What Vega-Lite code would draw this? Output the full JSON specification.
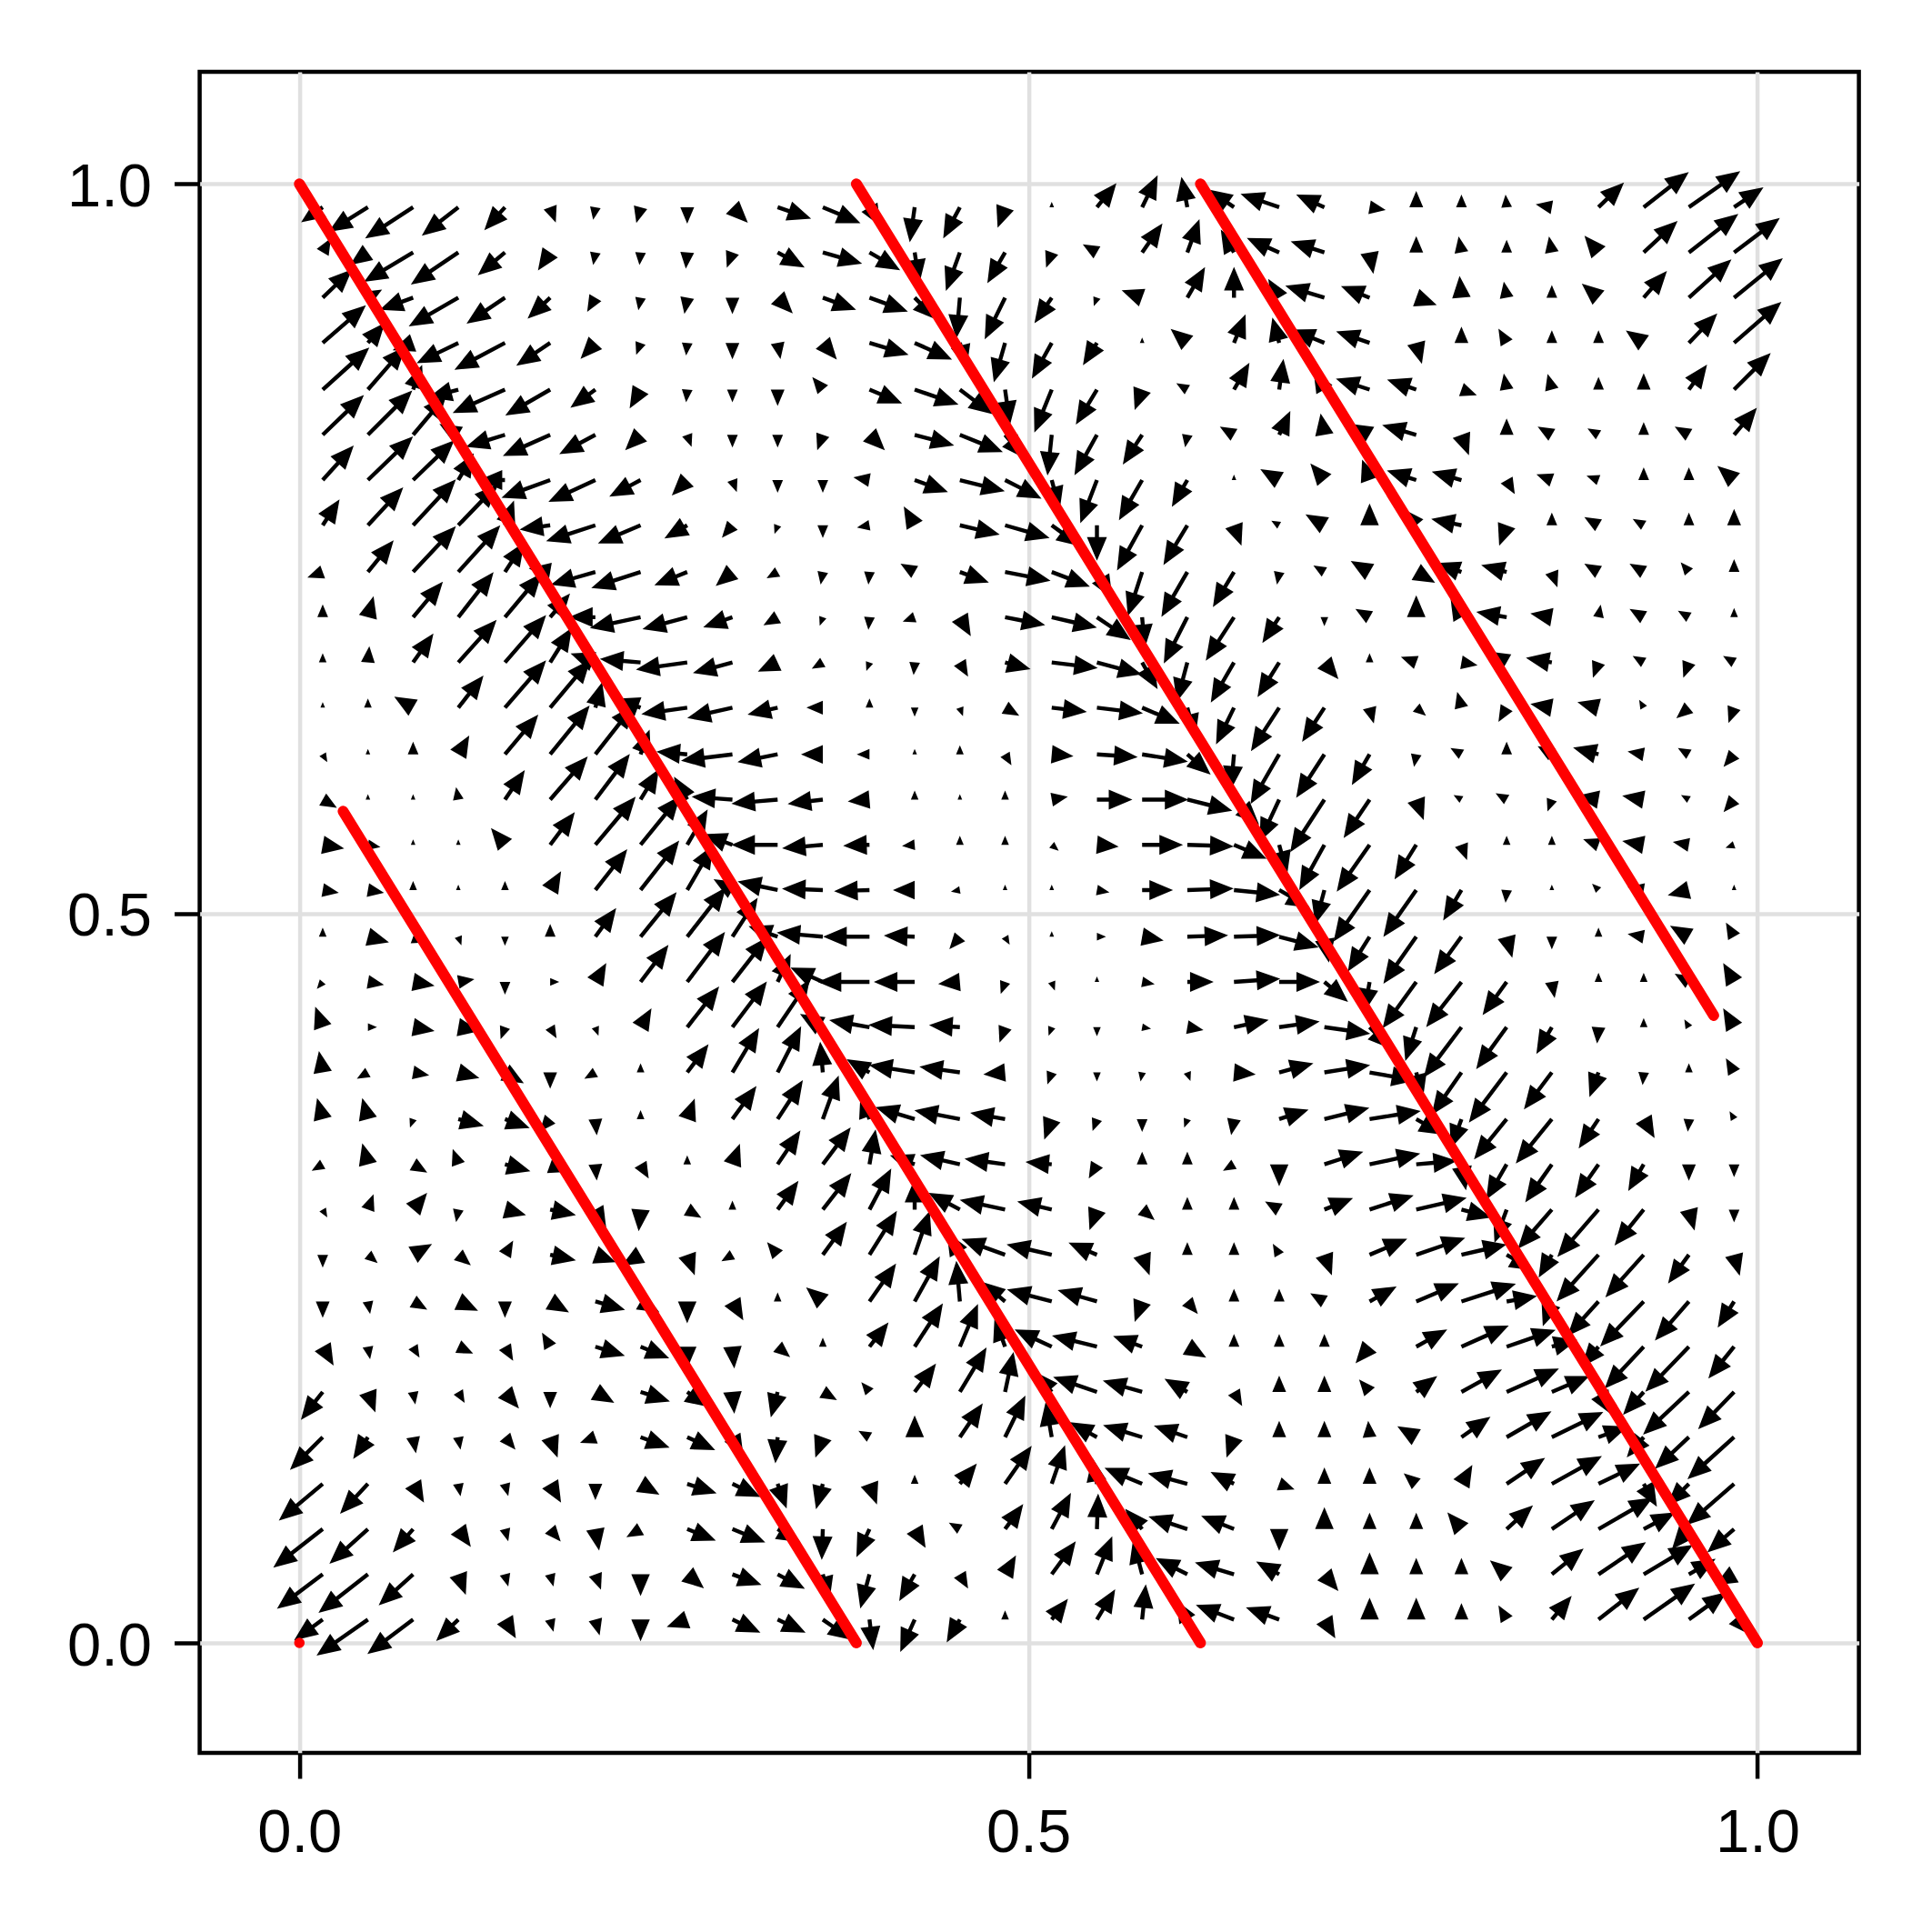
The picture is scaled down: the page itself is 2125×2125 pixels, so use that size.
{
"$schema": "https://vega.github.io/schema/vega-lite/v6.json",
"width": 1825, "height": 1849,
"autosize": {"type": "none"},
"padding": {"left": 219.6, "top": 79, "right": 80.4, "bottom": 197},
"background": "white",
"config": {
 "view": {"stroke": "black", "strokeWidth": 4.5},
 "axis": {"grid": true, "gridColor": "#e0e0e0", "gridWidth": 4.5, "domain": false, "tickColor": "black", "tickWidth": 4.5, "tickSize": 28, "labelFont": "Liberation Sans", "labelFontSize": 67, "labelColor": "black", "title": null, "labelFlush": false, "labelOverlap": false}
},
"datasets": {
"lines": [
{"x":0,"y":1,"s":"a"},{"x":0.618,"y":0,"s":"a"},
{"x":0.382,"y":1,"s":"b"},{"x":1,"y":0,"s":"b"},
{"x":0.618,"y":1,"s":"c"},{"x":0.970,"y":0.430,"s":"c"},
{"x":0.030,"y":0.570,"s":"d"},{"x":0.382,"y":0,"s":"d"}
],
"dot": [{"x":0,"y":0}],
"arrows": [
{"x":0.016,"y":0.984,"a":235,"m":5},{"x":0.047,"y":0.984,"a":238,"m":9},{"x":0.078,"y":0.984,"a":237,"m":11},{"x":0.109,"y":0.984,"a":232,"m":9},{"x":0.141,"y":0.984,"a":222,"m":6},{"x":0.172,"y":0.984,"a":160,"m":3},{"x":0.203,"y":0.984,"a":190,"m":2},{"x":0.234,"y":0.984,"a":195,"m":3},{"x":0.266,"y":0.984,"a":180,"m":3},{"x":0.297,"y":0.984,"a":135,"m":4},{"x":0.328,"y":0.984,"a":109,"m":7},{"x":0.359,"y":0.984,"a":113,"m":8},{"x":0.391,"y":0.984,"a":150,"m":4},{"x":0.422,"y":0.984,"a":188,"m":7},{"x":0.453,"y":0.984,"a":208,"m":7},{"x":0.484,"y":0.984,"a":200,"m":4},{"x":0.516,"y":0.984,"a":0,"m":0},{"x":0.547,"y":0.984,"a":39,"m":6},{"x":0.578,"y":0.984,"a":26,"m":7},{"x":0.609,"y":0.984,"a":349,"m":6},{"x":0.641,"y":0.984,"a":305,"m":6},{"x":0.672,"y":0.984,"a":289,"m":8},{"x":0.703,"y":0.984,"a":294,"m":6},{"x":0.734,"y":0.984,"a":100,"m":3},{"x":0.766,"y":0.984,"a":0,"m":3},{"x":0.797,"y":0.984,"a":0,"m":2},{"x":0.828,"y":0.984,"a":355,"m":2},{"x":0.859,"y":0.984,"a":280,"m":3},{"x":0.891,"y":0.984,"a":46,"m":7},{"x":0.922,"y":0.984,"a":52,"m":11},{"x":0.953,"y":0.984,"a":55,"m":12},{"x":0.984,"y":0.984,"a":56,"m":7},
{"x":0.016,"y":0.953,"a":30,"m":3},{"x":0.047,"y":0.953,"a":235,"m":4},{"x":0.078,"y":0.953,"a":239,"m":11},{"x":0.109,"y":0.953,"a":236,"m":11},{"x":0.141,"y":0.953,"a":230,"m":7},{"x":0.172,"y":0.953,"a":214,"m":4},{"x":0.203,"y":0.953,"a":190,"m":2},{"x":0.234,"y":0.953,"a":185,"m":2},{"x":0.266,"y":0.953,"a":185,"m":3},{"x":0.297,"y":0.953,"a":200,"m":3},{"x":0.328,"y":0.953,"a":119,"m":6},{"x":0.359,"y":0.953,"a":106,"m":8},{"x":0.391,"y":0.953,"a":120,"m":7},{"x":0.422,"y":0.953,"a":171,"m":6},{"x":0.453,"y":0.953,"a":200,"m":8},{"x":0.484,"y":0.953,"a":210,"m":7},{"x":0.516,"y":0.953,"a":200,"m":3},{"x":0.547,"y":0.953,"a":300,"m":3},{"x":0.578,"y":0.953,"a":35,"m":7},{"x":0.609,"y":0.953,"a":20,"m":7},{"x":0.641,"y":0.953,"a":330,"m":5},{"x":0.672,"y":0.953,"a":294,"m":7},{"x":0.703,"y":0.953,"a":288,"m":7},{"x":0.734,"y":0.953,"a":170,"m":4},{"x":0.766,"y":0.953,"a":0,"m":3},{"x":0.797,"y":0.953,"a":350,"m":3},{"x":0.828,"y":0.953,"a":0,"m":2},{"x":0.859,"y":0.953,"a":350,"m":3},{"x":0.891,"y":0.953,"a":320,"m":4},{"x":0.922,"y":0.953,"a":47,"m":9},{"x":0.953,"y":0.953,"a":52,"m":12},{"x":0.984,"y":0.953,"a":53,"m":11},
{"x":0.016,"y":0.922,"a":46,"m":8},{"x":0.047,"y":0.922,"a":60,"m":3},{"x":0.078,"y":0.922,"a":250,"m":7},{"x":0.109,"y":0.922,"a":240,"m":11},{"x":0.141,"y":0.922,"a":236,"m":9},{"x":0.172,"y":0.922,"a":227,"m":6},{"x":0.203,"y":0.922,"a":210,"m":3},{"x":0.234,"y":0.922,"a":190,"m":2},{"x":0.266,"y":0.922,"a":190,"m":3},{"x":0.297,"y":0.922,"a":180,"m":3},{"x":0.328,"y":0.922,"a":136,"m":4},{"x":0.359,"y":0.922,"a":110,"m":7},{"x":0.391,"y":0.922,"a":110,"m":8},{"x":0.422,"y":0.922,"a":135,"m":6},{"x":0.453,"y":0.922,"a":185,"m":8},{"x":0.484,"y":0.922,"a":206,"m":9},{"x":0.516,"y":0.922,"a":214,"m":6},{"x":0.547,"y":0.922,"a":200,"m":1},{"x":0.578,"y":0.922,"a":290,"m":4},{"x":0.609,"y":0.922,"a":30,"m":7},{"x":0.641,"y":0.922,"a":0,"m":6},{"x":0.672,"y":0.922,"a":330,"m":4},{"x":0.703,"y":0.922,"a":287,"m":8},{"x":0.734,"y":0.922,"a":292,"m":6},{"x":0.766,"y":0.922,"a":110,"m":4},{"x":0.797,"y":0.922,"a":355,"m":4},{"x":0.828,"y":0.922,"a":350,"m":3},{"x":0.859,"y":0.922,"a":0,"m":2},{"x":0.891,"y":0.922,"a":310,"m":4},{"x":0.922,"y":0.922,"a":41,"m":7},{"x":0.953,"y":0.922,"a":48,"m":11},{"x":0.984,"y":0.922,"a":51,"m":12},
{"x":0.016,"y":0.891,"a":49,"m":11},{"x":0.047,"y":0.891,"a":40,"m":5},{"x":0.078,"y":0.891,"a":250,"m":4},{"x":0.109,"y":0.891,"a":244,"m":9},{"x":0.141,"y":0.891,"a":242,"m":11},{"x":0.172,"y":0.891,"a":236,"m":8},{"x":0.203,"y":0.891,"a":223,"m":4},{"x":0.234,"y":0.891,"a":200,"m":2},{"x":0.266,"y":0.891,"a":185,"m":2},{"x":0.297,"y":0.891,"a":180,"m":3},{"x":0.328,"y":0.891,"a":170,"m":3},{"x":0.359,"y":0.891,"a":140,"m":4},{"x":0.391,"y":0.891,"a":107,"m":8},{"x":0.422,"y":0.891,"a":114,"m":8},{"x":0.453,"y":0.891,"a":165,"m":5},{"x":0.484,"y":0.891,"a":196,"m":8},{"x":0.516,"y":0.891,"a":209,"m":8},{"x":0.547,"y":0.891,"a":212,"m":5},{"x":0.578,"y":0.891,"a":0,"m":0},{"x":0.609,"y":0.891,"a":310,"m":4},{"x":0.641,"y":0.891,"a":22,"m":6},{"x":0.672,"y":0.891,"a":345,"m":5},{"x":0.703,"y":0.891,"a":292,"m":7},{"x":0.734,"y":0.891,"a":289,"m":7},{"x":0.766,"y":0.891,"a":165,"m":4},{"x":0.797,"y":0.891,"a":0,"m":3},{"x":0.828,"y":0.891,"a":330,"m":3},{"x":0.859,"y":0.891,"a":0,"m":2},{"x":0.891,"y":0.891,"a":0,"m":2},{"x":0.922,"y":0.891,"a":305,"m":4},{"x":0.953,"y":0.891,"a":44,"m":8},{"x":0.984,"y":0.891,"a":49,"m":12},
{"x":0.016,"y":0.859,"a":48,"m":12},{"x":0.047,"y":0.859,"a":41,"m":11},{"x":0.078,"y":0.859,"a":20,"m":5},{"x":0.109,"y":0.859,"a":255,"m":6},{"x":0.141,"y":0.859,"a":246,"m":11},{"x":0.172,"y":0.859,"a":240,"m":10},{"x":0.203,"y":0.859,"a":234,"m":6},{"x":0.234,"y":0.859,"a":210,"m":4},{"x":0.266,"y":0.859,"a":185,"m":2},{"x":0.297,"y":0.859,"a":180,"m":2},{"x":0.328,"y":0.859,"a":180,"m":3},{"x":0.359,"y":0.859,"a":320,"m":3},{"x":0.391,"y":0.859,"a":113,"m":7},{"x":0.422,"y":0.859,"a":109,"m":9},{"x":0.453,"y":0.859,"a":127,"m":8},{"x":0.484,"y":0.859,"a":172,"m":7},{"x":0.516,"y":0.859,"a":202,"m":9},{"x":0.547,"y":0.859,"a":211,"m":8},{"x":0.578,"y":0.859,"a":200,"m":4},{"x":0.609,"y":0.859,"a":300,"m":2},{"x":0.641,"y":0.859,"a":30,"m":6},{"x":0.672,"y":0.859,"a":8,"m":6},{"x":0.703,"y":0.859,"a":330,"m":4},{"x":0.734,"y":0.859,"a":288,"m":7},{"x":0.766,"y":0.859,"a":289,"m":6},{"x":0.797,"y":0.859,"a":110,"m":3},{"x":0.828,"y":0.859,"a":350,"m":3},{"x":0.859,"y":0.859,"a":345,"m":3},{"x":0.891,"y":0.859,"a":0,"m":2},{"x":0.922,"y":0.859,"a":0,"m":3},{"x":0.953,"y":0.859,"a":36,"m":6},{"x":0.984,"y":0.859,"a":45,"m":10},
{"x":0.016,"y":0.828,"a":46,"m":11},{"x":0.047,"y":0.828,"a":45,"m":12},{"x":0.078,"y":0.828,"a":40,"m":10},{"x":0.109,"y":0.828,"a":300,"m":4},{"x":0.141,"y":0.828,"a":253,"m":8},{"x":0.172,"y":0.828,"a":246,"m":10},{"x":0.203,"y":0.828,"a":242,"m":8},{"x":0.234,"y":0.828,"a":225,"m":4},{"x":0.266,"y":0.828,"a":160,"m":2},{"x":0.297,"y":0.828,"a":180,"m":2},{"x":0.328,"y":0.828,"a":180,"m":2},{"x":0.359,"y":0.828,"a":200,"m":3},{"x":0.391,"y":0.828,"a":135,"m":4},{"x":0.422,"y":0.828,"a":105,"m":8},{"x":0.453,"y":0.828,"a":112,"m":9},{"x":0.484,"y":0.828,"a":140,"m":6},{"x":0.516,"y":0.828,"a":186,"m":8},{"x":0.547,"y":0.828,"a":209,"m":9},{"x":0.578,"y":0.828,"a":213,"m":7},{"x":0.609,"y":0.828,"a":190,"m":2},{"x":0.641,"y":0.828,"a":300,"m":3},{"x":0.672,"y":0.828,"a":25,"m":5},{"x":0.703,"y":0.828,"a":350,"m":4},{"x":0.734,"y":0.828,"a":300,"m":4},{"x":0.766,"y":0.828,"a":286,"m":7},{"x":0.797,"y":0.828,"a":160,"m":4},{"x":0.828,"y":0.828,"a":0,"m":3},{"x":0.859,"y":0.828,"a":300,"m":3},{"x":0.891,"y":0.828,"a":300,"m":2},{"x":0.922,"y":0.828,"a":0,"m":2},{"x":0.953,"y":0.828,"a":300,"m":3},{"x":0.984,"y":0.828,"a":40,"m":7},
{"x":0.016,"y":0.797,"a":42,"m":9},{"x":0.047,"y":0.797,"a":46,"m":12},{"x":0.078,"y":0.797,"a":46,"m":11},{"x":0.109,"y":0.797,"a":30,"m":6},{"x":0.141,"y":0.797,"a":270,"m":5},{"x":0.172,"y":0.797,"a":250,"m":10},{"x":0.203,"y":0.797,"a":245,"m":10},{"x":0.234,"y":0.797,"a":242,"m":7},{"x":0.266,"y":0.797,"a":225,"m":4},{"x":0.297,"y":0.797,"a":160,"m":2},{"x":0.328,"y":0.797,"a":180,"m":2},{"x":0.359,"y":0.797,"a":180,"m":2},{"x":0.391,"y":0.797,"a":280,"m":3},{"x":0.422,"y":0.797,"a":110,"m":7},{"x":0.453,"y":0.797,"a":104,"m":9},{"x":0.484,"y":0.797,"a":117,"m":8},{"x":0.516,"y":0.797,"a":165,"m":6},{"x":0.547,"y":0.797,"a":201,"m":9},{"x":0.578,"y":0.797,"a":210,"m":9},{"x":0.609,"y":0.797,"a":210,"m":6},{"x":0.641,"y":0.797,"a":0,"m":0},{"x":0.672,"y":0.797,"a":300,"m":4},{"x":0.703,"y":0.797,"a":320,"m":4},{"x":0.734,"y":0.797,"a":340,"m":4},{"x":0.766,"y":0.797,"a":288,"m":6},{"x":0.797,"y":0.797,"a":286,"m":6},{"x":0.828,"y":0.797,"a":150,"m":3},{"x":0.859,"y":0.797,"a":290,"m":3},{"x":0.891,"y":0.797,"a":290,"m":2},{"x":0.922,"y":0.797,"a":0,"m":2},{"x":0.953,"y":0.797,"a":0,"m":2},{"x":0.984,"y":0.797,"a":310,"m":4},
{"x":0.016,"y":0.766,"a":33,"m":6},{"x":0.047,"y":0.766,"a":43,"m":10},{"x":0.078,"y":0.766,"a":43,"m":12},{"x":0.109,"y":0.766,"a":44,"m":11},{"x":0.141,"y":0.766,"a":20,"m":5},{"x":0.172,"y":0.766,"a":262,"m":6},{"x":0.203,"y":0.766,"a":252,"m":10},{"x":0.234,"y":0.766,"a":247,"m":9},{"x":0.266,"y":0.766,"a":240,"m":5},{"x":0.297,"y":0.766,"a":220,"m":3},{"x":0.328,"y":0.766,"a":200,"m":1},{"x":0.359,"y":0.766,"a":180,"m":2},{"x":0.391,"y":0.766,"a":260,"m":2},{"x":0.422,"y":0.766,"a":330,"m":4},{"x":0.453,"y":0.766,"a":103,"m":8},{"x":0.484,"y":0.766,"a":106,"m":9},{"x":0.516,"y":0.766,"a":126,"m":7},{"x":0.547,"y":0.766,"a":180,"m":7},{"x":0.578,"y":0.766,"a":209,"m":10},{"x":0.609,"y":0.766,"a":211,"m":9},{"x":0.641,"y":0.766,"a":160,"m":4},{"x":0.672,"y":0.766,"a":300,"m":1},{"x":0.703,"y":0.766,"a":300,"m":4},{"x":0.734,"y":0.766,"a":0,"m":4},{"x":0.766,"y":0.766,"a":320,"m":4},{"x":0.797,"y":0.766,"a":282,"m":6},{"x":0.828,"y":0.766,"a":200,"m":4},{"x":0.859,"y":0.766,"a":0,"m":2},{"x":0.891,"y":0.766,"a":300,"m":3},{"x":0.922,"y":0.766,"a":300,"m":2},{"x":0.953,"y":0.766,"a":0,"m":2},{"x":0.984,"y":0.766,"a":0,"m":3},
{"x":0.016,"y":0.734,"a":250,"m":3},{"x":0.047,"y":0.734,"a":39,"m":8},{"x":0.078,"y":0.734,"a":43,"m":12},{"x":0.109,"y":0.734,"a":42,"m":12},{"x":0.141,"y":0.734,"a":33,"m":7},{"x":0.172,"y":0.734,"a":280,"m":4},{"x":0.203,"y":0.734,"a":254,"m":9},{"x":0.234,"y":0.734,"a":252,"m":10},{"x":0.266,"y":0.734,"a":248,"m":7},{"x":0.297,"y":0.734,"a":230,"m":4},{"x":0.328,"y":0.734,"a":240,"m":2},{"x":0.359,"y":0.734,"a":190,"m":2},{"x":0.391,"y":0.734,"a":185,"m":2},{"x":0.422,"y":0.734,"a":300,"m":3},{"x":0.453,"y":0.734,"a":110,"m":6},{"x":0.484,"y":0.734,"a":101,"m":9},{"x":0.516,"y":0.734,"a":111,"m":8},{"x":0.547,"y":0.734,"a":150,"m":6},{"x":0.578,"y":0.734,"a":198,"m":9},{"x":0.609,"y":0.734,"a":210,"m":10},{"x":0.641,"y":0.734,"a":211,"m":8},{"x":0.672,"y":0.734,"a":190,"m":2},{"x":0.703,"y":0.734,"a":300,"m":2},{"x":0.734,"y":0.734,"a":300,"m":4},{"x":0.766,"y":0.734,"a":120,"m":4},{"x":0.797,"y":0.734,"a":290,"m":5},{"x":0.828,"y":0.734,"a":285,"m":5},{"x":0.859,"y":0.734,"a":160,"m":3},{"x":0.891,"y":0.734,"a":300,"m":3},{"x":0.922,"y":0.734,"a":300,"m":3},{"x":0.953,"y":0.734,"a":320,"m":2},{"x":0.984,"y":0.734,"a":0,"m":2},
{"x":0.016,"y":0.703,"a":0,"m":2},{"x":0.047,"y":0.703,"a":15,"m":4},{"x":0.078,"y":0.703,"a":40,"m":9},{"x":0.109,"y":0.703,"a":38,"m":11},{"x":0.141,"y":0.703,"a":40,"m":11},{"x":0.172,"y":0.703,"a":40,"m":6},{"x":0.203,"y":0.703,"a":270,"m":5},{"x":0.234,"y":0.703,"a":258,"m":10},{"x":0.266,"y":0.703,"a":255,"m":9},{"x":0.297,"y":0.703,"a":251,"m":6},{"x":0.328,"y":0.703,"a":240,"m":3},{"x":0.359,"y":0.703,"a":200,"m":1},{"x":0.391,"y":0.703,"a":185,"m":2},{"x":0.422,"y":0.703,"a":250,"m":2},{"x":0.453,"y":0.703,"a":150,"m":4},{"x":0.484,"y":0.703,"a":101,"m":8},{"x":0.516,"y":0.703,"a":103,"m":9},{"x":0.547,"y":0.703,"a":124,"m":8},{"x":0.578,"y":0.703,"a":175,"m":6},{"x":0.609,"y":0.703,"a":207,"m":10},{"x":0.641,"y":0.703,"a":213,"m":10},{"x":0.672,"y":0.703,"a":213,"m":6},{"x":0.703,"y":0.703,"a":180,"m":1},{"x":0.734,"y":0.703,"a":300,"m":3},{"x":0.766,"y":0.703,"a":0,"m":4},{"x":0.797,"y":0.703,"a":330,"m":4},{"x":0.828,"y":0.703,"a":280,"m":6},{"x":0.859,"y":0.703,"a":280,"m":4},{"x":0.891,"y":0.703,"a":10,"m":2},{"x":0.922,"y":0.703,"a":300,"m":3},{"x":0.953,"y":0.703,"a":300,"m":2},{"x":0.984,"y":0.703,"a":0,"m":1},
{"x":0.016,"y":0.672,"a":0,"m":1},{"x":0.047,"y":0.672,"a":5,"m":3},{"x":0.078,"y":0.672,"a":35,"m":7},{"x":0.109,"y":0.672,"a":42,"m":11},{"x":0.141,"y":0.672,"a":41,"m":12},{"x":0.172,"y":0.672,"a":32,"m":8},{"x":0.203,"y":0.672,"a":290,"m":5},{"x":0.234,"y":0.672,"a":275,"m":8},{"x":0.266,"y":0.672,"a":262,"m":10},{"x":0.297,"y":0.672,"a":255,"m":8},{"x":0.328,"y":0.672,"a":245,"m":4},{"x":0.359,"y":0.672,"a":240,"m":2},{"x":0.391,"y":0.672,"a":200,"m":1},{"x":0.422,"y":0.672,"a":185,"m":2},{"x":0.453,"y":0.672,"a":150,"m":3},{"x":0.484,"y":0.672,"a":105,"m":5},{"x":0.516,"y":0.672,"a":97,"m":9},{"x":0.547,"y":0.672,"a":105,"m":9},{"x":0.578,"y":0.672,"a":150,"m":6},{"x":0.609,"y":0.672,"a":195,"m":8},{"x":0.641,"y":0.672,"a":210,"m":9},{"x":0.672,"y":0.672,"a":212,"m":8},{"x":0.703,"y":0.672,"a":140,"m":4},{"x":0.734,"y":0.672,"a":0,"m":1},{"x":0.766,"y":0.672,"a":290,"m":3},{"x":0.797,"y":0.672,"a":100,"m":3},{"x":0.828,"y":0.672,"a":300,"m":4},{"x":0.859,"y":0.672,"a":280,"m":5},{"x":0.891,"y":0.672,"a":200,"m":3},{"x":0.922,"y":0.672,"a":300,"m":2},{"x":0.953,"y":0.672,"a":200,"m":3},{"x":0.984,"y":0.672,"a":300,"m":2},
{"x":0.016,"y":0.641,"a":0,"m":0},{"x":0.047,"y":0.641,"a":0,"m":1},{"x":0.078,"y":0.641,"a":300,"m":4},{"x":0.109,"y":0.641,"a":38,"m":8},{"x":0.141,"y":0.641,"a":41,"m":12},{"x":0.172,"y":0.641,"a":40,"m":12},{"x":0.203,"y":0.641,"a":15,"m":5},{"x":0.234,"y":0.641,"a":290,"m":5},{"x":0.266,"y":0.641,"a":262,"m":9},{"x":0.297,"y":0.641,"a":257,"m":9},{"x":0.328,"y":0.641,"a":257,"m":6},{"x":0.359,"y":0.641,"a":270,"m":3},{"x":0.391,"y":0.641,"a":0,"m":1},{"x":0.422,"y":0.641,"a":180,"m":1},{"x":0.453,"y":0.641,"a":160,"m":1},{"x":0.484,"y":0.641,"a":120,"m":3},{"x":0.516,"y":0.641,"a":97,"m":7},{"x":0.547,"y":0.641,"a":97,"m":9},{"x":0.578,"y":0.641,"a":113,"m":8},{"x":0.609,"y":0.641,"a":165,"m":6},{"x":0.641,"y":0.641,"a":206,"m":8},{"x":0.672,"y":0.641,"a":213,"m":10},{"x":0.703,"y":0.641,"a":213,"m":8},{"x":0.734,"y":0.641,"a":165,"m":3},{"x":0.766,"y":0.641,"a":130,"m":2},{"x":0.797,"y":0.641,"a":345,"m":3},{"x":0.828,"y":0.641,"a":210,"m":3},{"x":0.859,"y":0.641,"a":280,"m":4},{"x":0.891,"y":0.641,"a":285,"m":4},{"x":0.922,"y":0.641,"a":330,"m":1},{"x":0.953,"y":0.641,"a":230,"m":3},{"x":0.984,"y":0.641,"a":200,"m":3},
{"x":0.016,"y":0.609,"a":150,"m":1},{"x":0.047,"y":0.609,"a":0,"m":0},{"x":0.078,"y":0.609,"a":0,"m":2},{"x":0.109,"y":0.609,"a":30,"m":4},{"x":0.141,"y":0.609,"a":40,"m":10},{"x":0.172,"y":0.609,"a":39,"m":12},{"x":0.203,"y":0.609,"a":38,"m":12},{"x":0.234,"y":0.609,"a":20,"m":5},{"x":0.266,"y":0.609,"a":275,"m":6},{"x":0.297,"y":0.609,"a":263,"m":10},{"x":0.328,"y":0.609,"a":259,"m":8},{"x":0.359,"y":0.609,"a":270,"m":4},{"x":0.391,"y":0.609,"a":270,"m":2},{"x":0.422,"y":0.609,"a":0,"m":0},{"x":0.453,"y":0.609,"a":0,"m":1},{"x":0.484,"y":0.609,"a":150,"m":2},{"x":0.516,"y":0.609,"a":95,"m":4},{"x":0.547,"y":0.609,"a":94,"m":8},{"x":0.578,"y":0.609,"a":99,"m":9},{"x":0.609,"y":0.609,"a":131,"m":6},{"x":0.641,"y":0.609,"a":185,"m":7},{"x":0.672,"y":0.609,"a":210,"m":11},{"x":0.703,"y":0.609,"a":213,"m":10},{"x":0.734,"y":0.609,"a":210,"m":7},{"x":0.766,"y":0.609,"a":190,"m":2},{"x":0.797,"y":0.609,"a":300,"m":2},{"x":0.828,"y":0.609,"a":0,"m":2},{"x":0.859,"y":0.609,"a":300,"m":3},{"x":0.891,"y":0.609,"a":285,"m":5},{"x":0.922,"y":0.609,"a":280,"m":3},{"x":0.953,"y":0.609,"a":300,"m":2},{"x":0.984,"y":0.609,"a":220,"m":3},
{"x":0.016,"y":0.578,"a":120,"m":3},{"x":0.047,"y":0.578,"a":0,"m":0},{"x":0.078,"y":0.578,"a":0,"m":0},{"x":0.109,"y":0.578,"a":350,"m":2},{"x":0.141,"y":0.578,"a":34,"m":7},{"x":0.172,"y":0.578,"a":41,"m":11},{"x":0.203,"y":0.578,"a":37,"m":11},{"x":0.234,"y":0.578,"a":31,"m":7},{"x":0.266,"y":0.578,"a":330,"m":5},{"x":0.297,"y":0.578,"a":274,"m":8},{"x":0.328,"y":0.578,"a":265,"m":9},{"x":0.359,"y":0.578,"a":263,"m":7},{"x":0.391,"y":0.578,"a":265,"m":4},{"x":0.422,"y":0.578,"a":0,"m":1},{"x":0.453,"y":0.578,"a":0,"m":0},{"x":0.484,"y":0.578,"a":0,"m":1},{"x":0.516,"y":0.578,"a":80,"m":3},{"x":0.547,"y":0.578,"a":90,"m":7},{"x":0.578,"y":0.578,"a":90,"m":9},{"x":0.609,"y":0.578,"a":104,"m":9},{"x":0.641,"y":0.578,"a":135,"m":7},{"x":0.672,"y":0.578,"a":205,"m":9},{"x":0.703,"y":0.578,"a":213,"m":12},{"x":0.734,"y":0.578,"a":214,"m":9},{"x":0.766,"y":0.578,"a":160,"m":4},{"x":0.797,"y":0.578,"a":300,"m":1},{"x":0.828,"y":0.578,"a":300,"m":2},{"x":0.859,"y":0.578,"a":200,"m":2},{"x":0.891,"y":0.578,"a":280,"m":4},{"x":0.922,"y":0.578,"a":280,"m":4},{"x":0.953,"y":0.578,"a":300,"m":1},{"x":0.984,"y":0.578,"a":220,"m":3},
{"x":0.016,"y":0.547,"a":100,"m":4},{"x":0.047,"y":0.547,"a":100,"m":2},{"x":0.078,"y":0.547,"a":0,"m":0},{"x":0.109,"y":0.547,"a":0,"m":0},{"x":0.141,"y":0.547,"a":320,"m":4},{"x":0.172,"y":0.547,"a":37,"m":8},{"x":0.203,"y":0.547,"a":40,"m":12},{"x":0.234,"y":0.547,"a":39,"m":12},{"x":0.266,"y":0.547,"a":30,"m":8},{"x":0.297,"y":0.547,"a":290,"m":6},{"x":0.328,"y":0.547,"a":270,"m":9},{"x":0.359,"y":0.547,"a":265,"m":8},{"x":0.391,"y":0.547,"a":268,"m":5},{"x":0.422,"y":0.547,"a":265,"m":2},{"x":0.453,"y":0.547,"a":0,"m":1},{"x":0.484,"y":0.547,"a":0,"m":1},{"x":0.516,"y":0.547,"a":130,"m":1},{"x":0.547,"y":0.547,"a":95,"m":4},{"x":0.578,"y":0.547,"a":90,"m":8},{"x":0.609,"y":0.547,"a":92,"m":9},{"x":0.641,"y":0.547,"a":113,"m":7},{"x":0.672,"y":0.547,"a":165,"m":6},{"x":0.703,"y":0.547,"a":209,"m":10},{"x":0.734,"y":0.547,"a":215,"m":11},{"x":0.766,"y":0.547,"a":212,"m":8},{"x":0.797,"y":0.547,"a":160,"m":3},{"x":0.828,"y":0.547,"a":0,"m":1},{"x":0.859,"y":0.547,"a":0,"m":1},{"x":0.891,"y":0.547,"a":290,"m":3},{"x":0.922,"y":0.547,"a":280,"m":4},{"x":0.953,"y":0.547,"a":280,"m":3},{"x":0.984,"y":0.547,"a":250,"m":1},
{"x":0.016,"y":0.516,"a":100,"m":3},{"x":0.047,"y":0.516,"a":100,"m":3},{"x":0.078,"y":0.516,"a":0,"m":1},{"x":0.109,"y":0.516,"a":0,"m":0},{"x":0.141,"y":0.516,"a":0,"m":1},{"x":0.172,"y":0.516,"a":30,"m":4},{"x":0.203,"y":0.516,"a":38,"m":10},{"x":0.234,"y":0.516,"a":38,"m":12},{"x":0.266,"y":0.516,"a":30,"m":10},{"x":0.297,"y":0.516,"a":300,"m":4},{"x":0.328,"y":0.516,"a":282,"m":8},{"x":0.359,"y":0.516,"a":272,"m":8},{"x":0.391,"y":0.516,"a":268,"m":7},{"x":0.422,"y":0.516,"a":270,"m":4},{"x":0.453,"y":0.516,"a":260,"m":1},{"x":0.484,"y":0.516,"a":0,"m":0},{"x":0.516,"y":0.516,"a":0,"m":0},{"x":0.547,"y":0.516,"a":100,"m":2},{"x":0.578,"y":0.516,"a":90,"m":6},{"x":0.609,"y":0.516,"a":88,"m":9},{"x":0.641,"y":0.516,"a":96,"m":9},{"x":0.672,"y":0.516,"a":120,"m":7},{"x":0.703,"y":0.516,"a":195,"m":7},{"x":0.734,"y":0.516,"a":215,"m":12},{"x":0.766,"y":0.516,"a":215,"m":11},{"x":0.797,"y":0.516,"a":211,"m":7},{"x":0.828,"y":0.516,"a":185,"m":2},{"x":0.859,"y":0.516,"a":0,"m":0},{"x":0.891,"y":0.516,"a":315,"m":1},{"x":0.922,"y":0.516,"a":280,"m":3},{"x":0.953,"y":0.516,"a":256,"m":4},{"x":0.984,"y":0.516,"a":0,"m":0},
{"x":0.016,"y":0.484,"a":0,"m":1},{"x":0.047,"y":0.484,"a":105,"m":4},{"x":0.078,"y":0.484,"a":110,"m":3},{"x":0.109,"y":0.484,"a":160,"m":1},{"x":0.141,"y":0.484,"a":180,"m":1},{"x":0.172,"y":0.484,"a":0,"m":2},{"x":0.203,"y":0.484,"a":36,"m":7},{"x":0.234,"y":0.484,"a":39,"m":11},{"x":0.266,"y":0.484,"a":38,"m":12},{"x":0.297,"y":0.484,"a":33,"m":9},{"x":0.328,"y":0.484,"a":290,"m":6},{"x":0.359,"y":0.484,"a":275,"m":9},{"x":0.391,"y":0.484,"a":270,"m":9},{"x":0.422,"y":0.484,"a":272,"m":6},{"x":0.453,"y":0.484,"a":220,"m":3},{"x":0.484,"y":0.484,"a":150,"m":1},{"x":0.516,"y":0.484,"a":0,"m":0},{"x":0.547,"y":0.484,"a":90,"m":1},{"x":0.578,"y":0.484,"a":100,"m":4},{"x":0.609,"y":0.484,"a":88,"m":8},{"x":0.641,"y":0.484,"a":88,"m":9},{"x":0.672,"y":0.484,"a":105,"m":8},{"x":0.703,"y":0.484,"a":170,"m":5},{"x":0.734,"y":0.484,"a":212,"m":8},{"x":0.766,"y":0.484,"a":215,"m":11},{"x":0.797,"y":0.484,"a":216,"m":9},{"x":0.828,"y":0.484,"a":165,"m":4},{"x":0.859,"y":0.484,"a":180,"m":2},{"x":0.891,"y":0.484,"a":0,"m":1},{"x":0.922,"y":0.484,"a":280,"m":3},{"x":0.953,"y":0.484,"a":300,"m":4},{"x":0.984,"y":0.484,"a":330,"m":3},
{"x":0.016,"y":0.453,"a":220,"m":1},{"x":0.047,"y":0.453,"a":100,"m":3},{"x":0.078,"y":0.453,"a":100,"m":4},{"x":0.109,"y":0.453,"a":80,"m":3},{"x":0.141,"y":0.453,"a":180,"m":2},{"x":0.172,"y":0.453,"a":90,"m":1},{"x":0.203,"y":0.453,"a":30,"m":4},{"x":0.234,"y":0.453,"a":37,"m":9},{"x":0.266,"y":0.453,"a":37,"m":12},{"x":0.297,"y":0.453,"a":38,"m":11},{"x":0.328,"y":0.453,"a":25,"m":6},{"x":0.359,"y":0.453,"a":294,"m":7},{"x":0.391,"y":0.453,"a":270,"m":10},{"x":0.422,"y":0.453,"a":270,"m":8},{"x":0.453,"y":0.453,"a":265,"m":4},{"x":0.484,"y":0.453,"a":200,"m":2},{"x":0.516,"y":0.453,"a":160,"m":1},{"x":0.547,"y":0.453,"a":0,"m":0},{"x":0.578,"y":0.453,"a":100,"m":2},{"x":0.609,"y":0.453,"a":90,"m":5},{"x":0.641,"y":0.453,"a":86,"m":9},{"x":0.672,"y":0.453,"a":90,"m":8},{"x":0.703,"y":0.453,"a":130,"m":6},{"x":0.734,"y":0.453,"a":190,"m":6},{"x":0.766,"y":0.453,"a":216,"m":11},{"x":0.797,"y":0.453,"a":218,"m":11},{"x":0.828,"y":0.453,"a":216,"m":8},{"x":0.859,"y":0.453,"a":170,"m":3},{"x":0.891,"y":0.453,"a":0,"m":1},{"x":0.922,"y":0.453,"a":0,"m":1},{"x":0.953,"y":0.453,"a":300,"m":3},{"x":0.984,"y":0.453,"a":330,"m":4},
{"x":0.016,"y":0.422,"a":340,"m":4},{"x":0.047,"y":0.422,"a":90,"m":1},{"x":0.078,"y":0.422,"a":100,"m":4},{"x":0.109,"y":0.422,"a":100,"m":4},{"x":0.141,"y":0.422,"a":200,"m":2},{"x":0.172,"y":0.422,"a":150,"m":2},{"x":0.203,"y":0.422,"a":160,"m":1},{"x":0.234,"y":0.422,"a":30,"m":4},{"x":0.266,"y":0.422,"a":38,"m":10},{"x":0.297,"y":0.422,"a":37,"m":11},{"x":0.328,"y":0.422,"a":34,"m":11},{"x":0.359,"y":0.422,"a":300,"m":5},{"x":0.391,"y":0.422,"a":280,"m":8},{"x":0.422,"y":0.422,"a":273,"m":9},{"x":0.453,"y":0.422,"a":274,"m":6},{"x":0.484,"y":0.422,"a":200,"m":3},{"x":0.516,"y":0.422,"a":200,"m":1},{"x":0.547,"y":0.422,"a":180,"m":1},{"x":0.578,"y":0.422,"a":100,"m":1},{"x":0.609,"y":0.422,"a":100,"m":3},{"x":0.641,"y":0.422,"a":78,"m":7},{"x":0.672,"y":0.422,"a":82,"m":8},{"x":0.703,"y":0.422,"a":98,"m":9},{"x":0.734,"y":0.422,"a":135,"m":6},{"x":0.766,"y":0.422,"a":198,"m":7},{"x":0.797,"y":0.422,"a":217,"m":12},{"x":0.828,"y":0.422,"a":216,"m":10},{"x":0.859,"y":0.422,"a":210,"m":6},{"x":0.891,"y":0.422,"a":185,"m":3},{"x":0.922,"y":0.422,"a":0,"m":1},{"x":0.953,"y":0.422,"a":330,"m":1},{"x":0.984,"y":0.422,"a":330,"m":4},
{"x":0.016,"y":0.391,"a":350,"m":4},{"x":0.047,"y":0.391,"a":240,"m":2},{"x":0.078,"y":0.391,"a":100,"m":3},{"x":0.109,"y":0.391,"a":105,"m":4},{"x":0.141,"y":0.391,"a":120,"m":4},{"x":0.172,"y":0.391,"a":180,"m":3},{"x":0.203,"y":0.391,"a":240,"m":2},{"x":0.234,"y":0.391,"a":0,"m":1},{"x":0.266,"y":0.391,"a":37,"m":7},{"x":0.297,"y":0.391,"a":31,"m":10},{"x":0.328,"y":0.391,"a":27,"m":10},{"x":0.359,"y":0.391,"a":355,"m":6},{"x":0.391,"y":0.391,"a":300,"m":5},{"x":0.422,"y":0.391,"a":279,"m":9},{"x":0.453,"y":0.391,"a":278,"m":8},{"x":0.484,"y":0.391,"a":265,"m":4},{"x":0.516,"y":0.391,"a":200,"m":2},{"x":0.547,"y":0.391,"a":180,"m":1},{"x":0.578,"y":0.391,"a":190,"m":1},{"x":0.609,"y":0.391,"a":160,"m":1},{"x":0.641,"y":0.391,"a":95,"m":4},{"x":0.672,"y":0.391,"a":75,"m":7},{"x":0.703,"y":0.391,"a":81,"m":9},{"x":0.734,"y":0.391,"a":100,"m":9},{"x":0.766,"y":0.391,"a":165,"m":5},{"x":0.797,"y":0.391,"a":215,"m":10},{"x":0.828,"y":0.391,"a":217,"m":12},{"x":0.859,"y":0.391,"a":217,"m":9},{"x":0.891,"y":0.391,"a":200,"m":5},{"x":0.922,"y":0.391,"a":185,"m":2},{"x":0.953,"y":0.391,"a":0,"m":1},{"x":0.984,"y":0.391,"a":330,"m":3},
{"x":0.016,"y":0.359,"a":345,"m":4},{"x":0.047,"y":0.359,"a":345,"m":4},{"x":0.078,"y":0.359,"a":200,"m":1},{"x":0.109,"y":0.359,"a":105,"m":5},{"x":0.141,"y":0.359,"a":110,"m":5},{"x":0.172,"y":0.359,"a":220,"m":3},{"x":0.203,"y":0.359,"a":175,"m":3},{"x":0.234,"y":0.359,"a":0,"m":1},{"x":0.266,"y":0.359,"a":20,"m":4},{"x":0.297,"y":0.359,"a":36,"m":8},{"x":0.328,"y":0.359,"a":33,"m":9},{"x":0.359,"y":0.359,"a":20,"m":9},{"x":0.391,"y":0.359,"a":340,"m":5},{"x":0.422,"y":0.359,"a":287,"m":8},{"x":0.453,"y":0.359,"a":281,"m":9},{"x":0.484,"y":0.359,"a":280,"m":7},{"x":0.516,"y":0.359,"a":200,"m":4},{"x":0.547,"y":0.359,"a":200,"m":2},{"x":0.578,"y":0.359,"a":180,"m":2},{"x":0.609,"y":0.359,"a":200,"m":1},{"x":0.641,"y":0.359,"a":190,"m":3},{"x":0.672,"y":0.359,"a":72,"m":6},{"x":0.703,"y":0.359,"a":76,"m":9},{"x":0.734,"y":0.359,"a":81,"m":10},{"x":0.766,"y":0.359,"a":120,"m":6},{"x":0.797,"y":0.359,"a":200,"m":6},{"x":0.828,"y":0.359,"a":219,"m":10},{"x":0.859,"y":0.359,"a":219,"m":11},{"x":0.891,"y":0.359,"a":214,"m":7},{"x":0.922,"y":0.359,"a":150,"m":4},{"x":0.953,"y":0.359,"a":185,"m":2},{"x":0.984,"y":0.359,"a":330,"m":1},
{"x":0.016,"y":0.328,"a":240,"m":2},{"x":0.047,"y":0.328,"a":345,"m":4},{"x":0.078,"y":0.328,"a":120,"m":3},{"x":0.109,"y":0.328,"a":340,"m":3},{"x":0.141,"y":0.328,"a":105,"m":5},{"x":0.172,"y":0.328,"a":110,"m":4},{"x":0.203,"y":0.328,"a":175,"m":3},{"x":0.234,"y":0.328,"a":150,"m":3},{"x":0.266,"y":0.328,"a":0,"m":1},{"x":0.297,"y":0.328,"a":20,"m":4},{"x":0.328,"y":0.328,"a":34,"m":8},{"x":0.359,"y":0.328,"a":37,"m":9},{"x":0.391,"y":0.328,"a":10,"m":7},{"x":0.422,"y":0.328,"a":290,"m":5},{"x":0.453,"y":0.328,"a":283,"m":8},{"x":0.484,"y":0.328,"a":278,"m":8},{"x":0.516,"y":0.328,"a":275,"m":5},{"x":0.547,"y":0.328,"a":210,"m":3},{"x":0.578,"y":0.328,"a":0,"m":2},{"x":0.609,"y":0.328,"a":0,"m":2},{"x":0.641,"y":0.328,"a":240,"m":2},{"x":0.672,"y":0.328,"a":180,"m":4},{"x":0.703,"y":0.328,"a":72,"m":8},{"x":0.734,"y":0.328,"a":78,"m":10},{"x":0.766,"y":0.328,"a":85,"m":8},{"x":0.797,"y":0.328,"a":170,"m":5},{"x":0.828,"y":0.328,"a":210,"m":8},{"x":0.859,"y":0.328,"a":215,"m":9},{"x":0.891,"y":0.328,"a":215,"m":8},{"x":0.922,"y":0.328,"a":210,"m":6},{"x":0.953,"y":0.328,"a":180,"m":3},{"x":0.984,"y":0.328,"a":180,"m":2},
{"x":0.016,"y":0.297,"a":150,"m":1},{"x":0.047,"y":0.297,"a":20,"m":3},{"x":0.078,"y":0.297,"a":40,"m":4},{"x":0.109,"y":0.297,"a":190,"m":2},{"x":0.141,"y":0.297,"a":105,"m":4},{"x":0.172,"y":0.297,"a":102,"m":5},{"x":0.203,"y":0.297,"a":150,"m":4},{"x":0.234,"y":0.297,"a":185,"m":4},{"x":0.266,"y":0.297,"a":120,"m":3},{"x":0.297,"y":0.297,"a":0,"m":1},{"x":0.328,"y":0.297,"a":36,"m":7},{"x":0.359,"y":0.297,"a":38,"m":9},{"x":0.391,"y":0.297,"a":28,"m":9},{"x":0.422,"y":0.297,"a":0,"m":6},{"x":0.453,"y":0.297,"a":298,"m":7},{"x":0.484,"y":0.297,"a":282,"m":9},{"x":0.516,"y":0.297,"a":283,"m":7},{"x":0.547,"y":0.297,"a":200,"m":4},{"x":0.578,"y":0.297,"a":130,"m":3},{"x":0.609,"y":0.297,"a":0,"m":2},{"x":0.641,"y":0.297,"a":0,"m":2},{"x":0.672,"y":0.297,"a":300,"m":3},{"x":0.703,"y":0.297,"a":68,"m":6},{"x":0.734,"y":0.297,"a":72,"m":9},{"x":0.766,"y":0.297,"a":77,"m":10},{"x":0.797,"y":0.297,"a":105,"m":6},{"x":0.828,"y":0.297,"a":200,"m":7},{"x":0.859,"y":0.297,"a":221,"m":10},{"x":0.891,"y":0.297,"a":221,"m":12},{"x":0.922,"y":0.297,"a":219,"m":9},{"x":0.953,"y":0.297,"a":165,"m":4},{"x":0.984,"y":0.297,"a":180,"m":2},
{"x":0.016,"y":0.266,"a":180,"m":2},{"x":0.047,"y":0.266,"a":130,"m":2},{"x":0.078,"y":0.266,"a":60,"m":4},{"x":0.109,"y":0.266,"a":130,"m":3},{"x":0.141,"y":0.266,"a":30,"m":3},{"x":0.172,"y":0.266,"a":102,"m":5},{"x":0.203,"y":0.266,"a":110,"m":4},{"x":0.234,"y":0.266,"a":240,"m":4},{"x":0.266,"y":0.266,"a":160,"m":4},{"x":0.297,"y":0.266,"a":240,"m":2},{"x":0.328,"y":0.266,"a":320,"m":3},{"x":0.359,"y":0.266,"a":36,"m":8},{"x":0.391,"y":0.266,"a":32,"m":10},{"x":0.422,"y":0.266,"a":19,"m":9},{"x":0.453,"y":0.266,"a":330,"m":5},{"x":0.484,"y":0.266,"a":290,"m":9},{"x":0.516,"y":0.266,"a":283,"m":9},{"x":0.547,"y":0.266,"a":293,"m":6},{"x":0.578,"y":0.266,"a":160,"m":4},{"x":0.609,"y":0.266,"a":0,"m":2},{"x":0.641,"y":0.266,"a":0,"m":2},{"x":0.672,"y":0.266,"a":330,"m":2},{"x":0.703,"y":0.266,"a":160,"m":4},{"x":0.734,"y":0.266,"a":67,"m":8},{"x":0.766,"y":0.266,"a":71,"m":10},{"x":0.797,"y":0.266,"a":77,"m":9},{"x":0.828,"y":0.266,"a":120,"m":6},{"x":0.859,"y":0.266,"a":210,"m":5},{"x":0.891,"y":0.266,"a":222,"m":12},{"x":0.922,"y":0.266,"a":222,"m":11},{"x":0.953,"y":0.266,"a":216,"m":7},{"x":0.984,"y":0.266,"a":165,"m":4},
{"x":0.016,"y":0.234,"a":180,"m":3},{"x":0.047,"y":0.234,"a":170,"m":2},{"x":0.078,"y":0.234,"a":120,"m":3},{"x":0.109,"y":0.234,"a":115,"m":4},{"x":0.141,"y":0.234,"a":180,"m":3},{"x":0.172,"y":0.234,"a":120,"m":4},{"x":0.203,"y":0.234,"a":106,"m":6},{"x":0.234,"y":0.234,"a":120,"m":4},{"x":0.266,"y":0.234,"a":180,"m":4},{"x":0.297,"y":0.234,"a":150,"m":4},{"x":0.328,"y":0.234,"a":0,"m":1},{"x":0.359,"y":0.234,"a":310,"m":4},{"x":0.391,"y":0.234,"a":35,"m":9},{"x":0.422,"y":0.234,"a":29,"m":10},{"x":0.453,"y":0.234,"a":355,"m":8},{"x":0.484,"y":0.234,"a":310,"m":6},{"x":0.516,"y":0.234,"a":285,"m":9},{"x":0.547,"y":0.234,"a":286,"m":8},{"x":0.578,"y":0.234,"a":200,"m":4},{"x":0.609,"y":0.234,"a":140,"m":3},{"x":0.641,"y":0.234,"a":0,"m":2},{"x":0.672,"y":0.234,"a":0,"m":2},{"x":0.703,"y":0.234,"a":300,"m":3},{"x":0.734,"y":0.234,"a":61,"m":6},{"x":0.766,"y":0.234,"a":67,"m":9},{"x":0.797,"y":0.234,"a":72,"m":11},{"x":0.828,"y":0.234,"a":80,"m":6},{"x":0.859,"y":0.234,"a":200,"m":5},{"x":0.891,"y":0.234,"a":222,"m":9},{"x":0.922,"y":0.234,"a":224,"m":12},{"x":0.953,"y":0.234,"a":221,"m":10},{"x":0.984,"y":0.234,"a":212,"m":6},
{"x":0.016,"y":0.203,"a":150,"m":4},{"x":0.047,"y":0.203,"a":170,"m":2},{"x":0.078,"y":0.203,"a":150,"m":2},{"x":0.109,"y":0.203,"a":115,"m":3},{"x":0.141,"y":0.203,"a":150,"m":3},{"x":0.172,"y":0.203,"a":330,"m":3},{"x":0.203,"y":0.203,"a":107,"m":6},{"x":0.234,"y":0.203,"a":112,"m":6},{"x":0.266,"y":0.203,"a":180,"m":4},{"x":0.297,"y":0.203,"a":175,"m":4},{"x":0.328,"y":0.203,"a":130,"m":3},{"x":0.359,"y":0.203,"a":0,"m":1},{"x":0.391,"y":0.203,"a":38,"m":6},{"x":0.422,"y":0.203,"a":33,"m":10},{"x":0.453,"y":0.203,"a":23,"m":9},{"x":0.484,"y":0.203,"a":340,"m":6},{"x":0.516,"y":0.203,"a":295,"m":8},{"x":0.547,"y":0.203,"a":284,"m":9},{"x":0.578,"y":0.203,"a":290,"m":6},{"x":0.609,"y":0.203,"a":120,"m":4},{"x":0.641,"y":0.203,"a":0,"m":2},{"x":0.672,"y":0.203,"a":0,"m":2},{"x":0.703,"y":0.203,"a":0,"m":2},{"x":0.734,"y":0.203,"a":220,"m":4},{"x":0.766,"y":0.203,"a":61,"m":7},{"x":0.797,"y":0.203,"a":66,"m":10},{"x":0.828,"y":0.203,"a":71,"m":10},{"x":0.859,"y":0.203,"a":75,"m":5},{"x":0.891,"y":0.203,"a":220,"m":5},{"x":0.922,"y":0.203,"a":223,"m":11},{"x":0.953,"y":0.203,"a":224,"m":12},{"x":0.984,"y":0.203,"a":219,"m":8},
{"x":0.016,"y":0.172,"a":218,"m":7},{"x":0.047,"y":0.172,"a":160,"m":4},{"x":0.078,"y":0.172,"a":170,"m":2},{"x":0.109,"y":0.172,"a":150,"m":2},{"x":0.141,"y":0.172,"a":140,"m":4},{"x":0.172,"y":0.172,"a":180,"m":3},{"x":0.203,"y":0.172,"a":120,"m":4},{"x":0.234,"y":0.172,"a":108,"m":6},{"x":0.266,"y":0.172,"a":125,"m":5},{"x":0.297,"y":0.172,"a":175,"m":4},{"x":0.328,"y":0.172,"a":195,"m":5},{"x":0.359,"y":0.172,"a":120,"m":3},{"x":0.391,"y":0.172,"a":320,"m":2},{"x":0.422,"y":0.172,"a":37,"m":7},{"x":0.453,"y":0.172,"a":31,"m":10},{"x":0.484,"y":0.172,"a":12,"m":8},{"x":0.516,"y":0.172,"a":320,"m":5},{"x":0.547,"y":0.172,"a":289,"m":9},{"x":0.578,"y":0.172,"a":286,"m":8},{"x":0.609,"y":0.172,"a":300,"m":5},{"x":0.641,"y":0.172,"a":150,"m":3},{"x":0.672,"y":0.172,"a":0,"m":3},{"x":0.703,"y":0.172,"a":0,"m":3},{"x":0.734,"y":0.172,"a":320,"m":3},{"x":0.766,"y":0.172,"a":53,"m":5},{"x":0.797,"y":0.172,"a":61,"m":9},{"x":0.828,"y":0.172,"a":66,"m":11},{"x":0.859,"y":0.172,"a":67,"m":8},{"x":0.891,"y":0.172,"a":150,"m":5},{"x":0.922,"y":0.172,"a":222,"m":6},{"x":0.953,"y":0.172,"a":227,"m":12},{"x":0.984,"y":0.172,"a":224,"m":10},
{"x":0.016,"y":0.141,"a":225,"m":9},{"x":0.047,"y":0.141,"a":214,"m":5},{"x":0.078,"y":0.141,"a":170,"m":3},{"x":0.109,"y":0.141,"a":170,"m":2},{"x":0.141,"y":0.141,"a":140,"m":3},{"x":0.172,"y":0.141,"a":160,"m":4},{"x":0.203,"y":0.141,"a":250,"m":3},{"x":0.234,"y":0.141,"a":110,"m":6},{"x":0.266,"y":0.141,"a":115,"m":6},{"x":0.297,"y":0.141,"a":150,"m":4},{"x":0.328,"y":0.141,"a":185,"m":5},{"x":0.359,"y":0.141,"a":200,"m":4},{"x":0.391,"y":0.141,"a":300,"m":2},{"x":0.422,"y":0.141,"a":0,"m":4},{"x":0.453,"y":0.141,"a":34,"m":8},{"x":0.484,"y":0.141,"a":26,"m":9},{"x":0.516,"y":0.141,"a":350,"m":7},{"x":0.547,"y":0.141,"a":299,"m":6},{"x":0.578,"y":0.141,"a":287,"m":8},{"x":0.609,"y":0.141,"a":289,"m":7},{"x":0.641,"y":0.141,"a":200,"m":4},{"x":0.672,"y":0.141,"a":0,"m":3},{"x":0.703,"y":0.141,"a":0,"m":3},{"x":0.734,"y":0.141,"a":355,"m":3},{"x":0.766,"y":0.141,"a":300,"m":4},{"x":0.797,"y":0.141,"a":55,"m":7},{"x":0.828,"y":0.141,"a":60,"m":10},{"x":0.859,"y":0.141,"a":64,"m":11},{"x":0.891,"y":0.141,"a":70,"m":6},{"x":0.922,"y":0.141,"a":220,"m":5},{"x":0.953,"y":0.141,"a":227,"m":9},{"x":0.984,"y":0.141,"a":228,"m":12},
{"x":0.016,"y":0.109,"a":230,"m":11},{"x":0.047,"y":0.109,"a":223,"m":8},{"x":0.078,"y":0.109,"a":150,"m":4},{"x":0.109,"y":0.109,"a":170,"m":2},{"x":0.141,"y":0.109,"a":165,"m":2},{"x":0.172,"y":0.109,"a":150,"m":4},{"x":0.203,"y":0.109,"a":180,"m":3},{"x":0.234,"y":0.109,"a":120,"m":4},{"x":0.266,"y":0.109,"a":108,"m":6},{"x":0.297,"y":0.109,"a":115,"m":6},{"x":0.328,"y":0.109,"a":160,"m":5},{"x":0.359,"y":0.109,"a":195,"m":5},{"x":0.391,"y":0.109,"a":160,"m":4},{"x":0.422,"y":0.109,"a":0,"m":1},{"x":0.453,"y":0.109,"a":40,"m":5},{"x":0.484,"y":0.109,"a":35,"m":9},{"x":0.516,"y":0.109,"a":19,"m":8},{"x":0.547,"y":0.109,"a":350,"m":5},{"x":0.578,"y":0.109,"a":293,"m":8},{"x":0.609,"y":0.109,"a":285,"m":8},{"x":0.641,"y":0.109,"a":297,"m":5},{"x":0.672,"y":0.109,"a":110,"m":3},{"x":0.703,"y":0.109,"a":0,"m":3},{"x":0.734,"y":0.109,"a":0,"m":3},{"x":0.766,"y":0.109,"a":310,"m":3},{"x":0.797,"y":0.109,"a":30,"m":4},{"x":0.828,"y":0.109,"a":56,"m":9},{"x":0.859,"y":0.109,"a":61,"m":11},{"x":0.891,"y":0.109,"a":64,"m":9},{"x":0.922,"y":0.109,"a":150,"m":5},{"x":0.953,"y":0.109,"a":225,"m":6},{"x":0.984,"y":0.109,"a":229,"m":12},
{"x":0.016,"y":0.078,"a":232,"m":12},{"x":0.047,"y":0.078,"a":228,"m":10},{"x":0.078,"y":0.078,"a":221,"m":6},{"x":0.109,"y":0.078,"a":145,"m":4},{"x":0.141,"y":0.078,"a":165,"m":2},{"x":0.172,"y":0.078,"a":140,"m":3},{"x":0.203,"y":0.078,"a":170,"m":4},{"x":0.234,"y":0.078,"a":240,"m":3},{"x":0.266,"y":0.078,"a":112,"m":6},{"x":0.297,"y":0.078,"a":112,"m":7},{"x":0.328,"y":0.078,"a":120,"m":5},{"x":0.359,"y":0.078,"a":182,"m":6},{"x":0.391,"y":0.078,"a":205,"m":6},{"x":0.422,"y":0.078,"a":150,"m":4},{"x":0.453,"y":0.078,"a":300,"m":2},{"x":0.484,"y":0.078,"a":36,"m":6},{"x":0.516,"y":0.078,"a":28,"m":8},{"x":0.547,"y":0.078,"a":2,"m":7},{"x":0.578,"y":0.078,"a":320,"m":5},{"x":0.609,"y":0.078,"a":288,"m":8},{"x":0.641,"y":0.078,"a":292,"m":7},{"x":0.672,"y":0.078,"a":180,"m":4},{"x":0.703,"y":0.078,"a":0,"m":4},{"x":0.734,"y":0.078,"a":0,"m":3},{"x":0.766,"y":0.078,"a":0,"m":3},{"x":0.797,"y":0.078,"a":320,"m":4},{"x":0.828,"y":0.078,"a":48,"m":7},{"x":0.859,"y":0.078,"a":56,"m":10},{"x":0.891,"y":0.078,"a":60,"m":12},{"x":0.922,"y":0.078,"a":62,"m":7},{"x":0.953,"y":0.078,"a":220,"m":5},{"x":0.984,"y":0.078,"a":229,"m":7},
{"x":0.016,"y":0.047,"a":233,"m":11},{"x":0.047,"y":0.047,"a":232,"m":12},{"x":0.078,"y":0.047,"a":228,"m":9},{"x":0.109,"y":0.047,"a":160,"m":4},{"x":0.141,"y":0.047,"a":165,"m":2},{"x":0.172,"y":0.047,"a":165,"m":2},{"x":0.203,"y":0.047,"a":160,"m":3},{"x":0.234,"y":0.047,"a":180,"m":4},{"x":0.266,"y":0.047,"a":130,"m":4},{"x":0.297,"y":0.047,"a":110,"m":6},{"x":0.328,"y":0.047,"a":118,"m":6},{"x":0.359,"y":0.047,"a":165,"m":5},{"x":0.391,"y":0.047,"a":195,"m":7},{"x":0.422,"y":0.047,"a":210,"m":6},{"x":0.453,"y":0.047,"a":150,"m":3},{"x":0.484,"y":0.047,"a":30,"m":4},{"x":0.516,"y":0.047,"a":36,"m":8},{"x":0.547,"y":0.047,"a":22,"m":8},{"x":0.578,"y":0.047,"a":345,"m":7},{"x":0.609,"y":0.047,"a":297,"m":7},{"x":0.641,"y":0.047,"a":287,"m":8},{"x":0.672,"y":0.047,"a":299,"m":5},{"x":0.703,"y":0.047,"a":140,"m":4},{"x":0.734,"y":0.047,"a":0,"m":4},{"x":0.766,"y":0.047,"a":0,"m":3},{"x":0.797,"y":0.047,"a":0,"m":3},{"x":0.828,"y":0.047,"a":310,"m":4},{"x":0.859,"y":0.047,"a":51,"m":8},{"x":0.891,"y":0.047,"a":56,"m":11},{"x":0.922,"y":0.047,"a":59,"m":11},{"x":0.953,"y":0.047,"a":60,"m":6},{"x":0.984,"y":0.047,"a":240,"m":4},
{"x":0.016,"y":0.016,"a":234,"m":7},{"x":0.047,"y":0.016,"a":235,"m":12},{"x":0.078,"y":0.016,"a":233,"m":11},{"x":0.109,"y":0.016,"a":226,"m":6},{"x":0.141,"y":0.016,"a":150,"m":4},{"x":0.172,"y":0.016,"a":165,"m":2},{"x":0.203,"y":0.016,"a":165,"m":3},{"x":0.234,"y":0.016,"a":180,"m":4},{"x":0.266,"y":0.016,"a":250,"m":4},{"x":0.297,"y":0.016,"a":115,"m":6},{"x":0.328,"y":0.016,"a":115,"m":6},{"x":0.359,"y":0.016,"a":125,"m":7},{"x":0.391,"y":0.016,"a":173,"m":6},{"x":0.422,"y":0.016,"a":204,"m":7},{"x":0.453,"y":0.016,"a":210,"m":5},{"x":0.484,"y":0.016,"a":0,"m":1},{"x":0.516,"y":0.016,"a":38,"m":5},{"x":0.547,"y":0.016,"a":31,"m":7},{"x":0.578,"y":0.016,"a":6,"m":7},{"x":0.609,"y":0.016,"a":330,"m":4},{"x":0.641,"y":0.016,"a":291,"m":8},{"x":0.672,"y":0.016,"a":290,"m":7},{"x":0.703,"y":0.016,"a":150,"m":4},{"x":0.734,"y":0.016,"a":0,"m":4},{"x":0.766,"y":0.016,"a":0,"m":4},{"x":0.797,"y":0.016,"a":0,"m":3},{"x":0.828,"y":0.016,"a":330,"m":3},{"x":0.859,"y":0.016,"a":40,"m":6},{"x":0.891,"y":0.016,"a":52,"m":10},{"x":0.922,"y":0.016,"a":55,"m":12},{"x":0.953,"y":0.016,"a":54,"m":9},{"x":0.984,"y":0.016,"a":140,"m":3}
]
},
"layer": [
{
 "data": {"name": "arrows"},
 "mark": {"type": "point", "filled": true, "size": 4, "color": "black", "opacity": 1, "strokeWidth": 0},
 "encoding": {
  "x": {"field": "x", "type": "quantitative", "scale": {"domain": [-0.0684, 1.0696], "nice": false, "zero": false},
        "axis": {"values": [0, 0.5, 1], "format": ".1f", "labelPadding": 27}},
  "y": {"field": "y", "type": "quantitative", "scale": {"domain": [-0.0754, 1.0768], "nice": false, "zero": false},
        "axis": {"values": [0, 0.5, 1], "format": ".1f", "labelPadding": 25, "labelOffset": 4}},
  "angle": {"field": "a", "type": "quantitative", "scale": null},
  "shape": {"field": "m", "type": "ordinal", "legend": null,
   "scale": {"domain": [0,1,2,3,4,5,6,7,8,9,10,11,12],
    "range": [
     "M-2.5,0L0,-6L2.5,0Z",
     "M-4.2,0L0,-10L4.2,0Z",
     "M-5.9,0L0,-14L5.9,0Z",
     "M-7.6,0L0,-18L7.6,0Z",
     "M-10.2,0L0,-24L10.2,0Z",
     "M-2.2,0L-2.2,-3L-11,-3L0,-29L11,-3L2.2,-3L2.2,0Z",
     "M-2.2,0L-2.2,-8L-11,-8L0,-34L11,-8L2.2,-8L2.2,0Z",
     "M-2.2,0L-2.2,-13L-11,-13L0,-39L11,-13L2.2,-13L2.2,0Z",
     "M-2.2,0L-2.2,-19L-11,-19L0,-45L11,-19L2.2,-19L2.2,0Z",
     "M-2.2,0L-2.2,-25L-11,-25L0,-51L11,-25L2.2,-25L2.2,0Z",
     "M-2.2,0L-2.2,-31L-11,-31L0,-57L11,-31L2.2,-31L2.2,0Z",
     "M-2.2,0L-2.2,-37L-11,-37L0,-63L11,-37L2.2,-37L2.2,0Z",
     "M-2.2,0L-2.2,-43L-11,-43L0,-69L11,-43L2.2,-43L2.2,0Z"
    ]}}
 }
},
{
 "data": {"name": "lines"},
 "mark": {"type": "line", "color": "#ff0000", "strokeWidth": 12, "strokeCap": "round"},
 "encoding": {
  "x": {"field": "x", "type": "quantitative"},
  "y": {"field": "y", "type": "quantitative"},
  "detail": {"field": "s", "type": "nominal"}
 }
},
{
 "data": {"name": "dot"},
 "mark": {"type": "point", "shape": "circle", "filled": true, "color": "#ff0000", "size": 133, "opacity": 1},
 "encoding": {
  "x": {"field": "x", "type": "quantitative"},
  "y": {"field": "y", "type": "quantitative"}
 }
}
]
}
